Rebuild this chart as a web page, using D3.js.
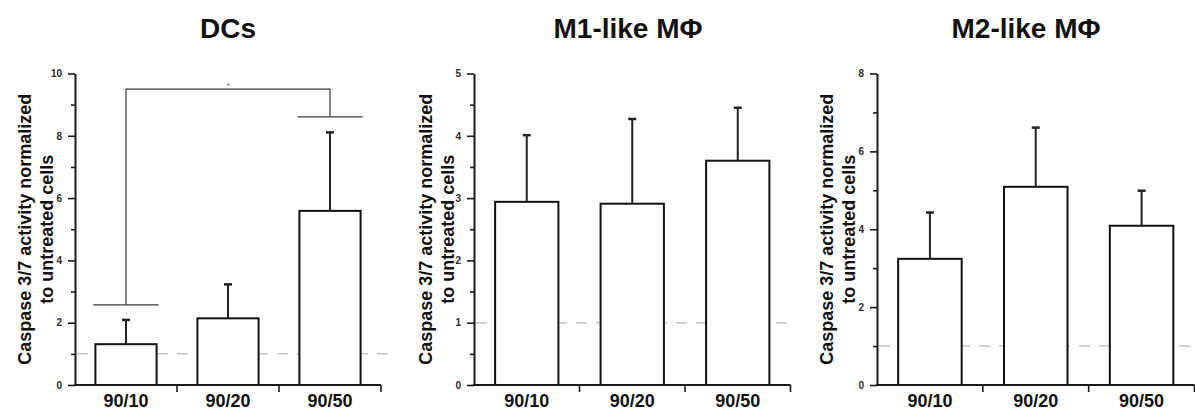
<!DOCTYPE html>
<html>
<head>
<meta charset="utf-8">
<script src="https://cdn.jsdelivr.net/npm/d3@7"></script>
<style>
  html, body { margin: 0; padding: 0; background: #fff; }
  svg { display: block; }
</style>
</head>
<body>
<svg id="chart" width="1195" height="410"></svg>
<script>
// ---------- data ----------
const categories = ["90/10", "90/20", "90/50"];

const titles = ["DCs", "M1-like M\u03A6", "M2-like M\u03A6"];
const yLabelLines = ["Caspase 3/7 activity normalized", "to untreated cells"];

const dcMeans = [1.31, 2.14, 5.59];
const dcErrors = [0.78, 1.09, 2.52];

const m1Means = [2.94, 2.91, 3.60];
const m1Errors = [1.07, 1.36, 0.85];

const m2Means = [3.24, 5.09, 4.09];
const m2Errors = [1.19, 1.52, 0.90];

const dcYTicks = [0, 2, 4, 6, 8, 10];
const dcYMinor = [1, 3, 5, 7, 9];
const m1YTicks = [0, 1, 2, 3, 4, 5];
const m1YMinor = [0.5, 1.5, 2.5, 3.5, 4.5];
const m2YTicks = [0, 2, 4, 6, 8];
const m2YMinor = [1, 3, 5, 7];

const baselineValue = 1; // dashed reference line (untreated = 1)

// significance bracket on DCs panel: 90/10 vs 90/50
const sigFrom = "90/10";
const sigTo = "90/50";
const sigLevel = 9.5;
const sigLegBottoms = [2.57, 8.61];
const sigLabel = "*";

// ---------- layout ----------
const panels = [
  { title: titles[0], means: dcMeans, errors: dcErrors, yMax: 10, ticks: dcYTicks, minor: dcYMinor,
    x0: 75, x1: 381, titleX: 228, labelX: [31, 53], dashEnd: 390, sig: true },
  { title: titles[1], means: m1Means, errors: m1Errors, yMax: 5, ticks: m1YTicks, minor: m1YMinor,
    x0: 474, x1: 790.5, titleX: 628, labelX: [432, 454], dashEnd: 787, sig: false },
  { title: titles[2], means: m2Means, errors: m2Errors, yMax: 8, ticks: m2YTicks, minor: m2YMinor,
    x0: 877, x1: 1194.5, titleX: 1026, labelX: [833, 855], dashEnd: 1195, sig: false }
];

const yTop = 73.5, yBottom = 385;
const FONT = "'Liberation Sans', Arial, Helvetica, sans-serif";
const axisColor = "#1a1a1a";

const svg = d3.select("#chart");

panels.forEach(p => {
  const g = svg.append("g");
  const x = d3.scaleBand().domain(categories).range([p.x0, p.x1])
    .paddingInner(0.4).paddingOuter(0.2);
  const y = d3.scaleLinear().domain([0, p.yMax]).range([yBottom, yTop]);
  const data = categories.map((c, i) => ({ cat: c, mean: p.means[i], err: p.errors[i] }));

  // title
  g.append("text")
    .attr("x", p.titleX).attr("y", 38)
    .attr("text-anchor", "middle")
    .attr("font-family", FONT).attr("font-weight", "bold").attr("font-size", 28)
    .attr("fill", "#111")
    .text(p.title);

  // y label (two lines, rotated)
  const cy = (yTop + yBottom) / 2;
  yLabelLines.forEach((line, i) => {
    g.append("text")
      .attr("transform", `translate(${p.labelX[i]},${cy}) rotate(-90)`)
      .attr("text-anchor", "middle")
      .attr("font-family", FONT).attr("font-weight", "bold").attr("font-size", 18)
      .attr("fill", "#111")
      .text(line);
  });

  // dashed baseline (behind bars)
  g.append("line")
    .attr("x1", p.x0 + 2).attr("x2", p.dashEnd)
    .attr("y1", y(baselineValue)).attr("y2", y(baselineValue))
    .attr("stroke", "#c4c4c4").attr("stroke-width", 1.5)
    .attr("stroke-dasharray", "11,9");

  // error bars (upper only)
  const eb = g.append("g").selectAll("g").data(data).join("g");
  eb.append("line")
    .attr("x1", d => x(d.cat) + x.bandwidth() / 2)
    .attr("x2", d => x(d.cat) + x.bandwidth() / 2)
    .attr("y1", d => y(d.mean)).attr("y2", d => y(d.mean + d.err))
    .attr("stroke", "#222").attr("stroke-width", 2);
  eb.append("line")
    .attr("x1", d => x(d.cat) + x.bandwidth() / 2 - 4)
    .attr("x2", d => x(d.cat) + x.bandwidth() / 2 + 4)
    .attr("y1", d => y(d.mean + d.err)).attr("y2", d => y(d.mean + d.err))
    .attr("stroke", "#222").attr("stroke-width", 2.5);

  // bars
  g.append("g").selectAll("rect").data(data).join("rect")
    .attr("x", d => x(d.cat))
    .attr("y", d => y(d.mean))
    .attr("width", x.bandwidth())
    .attr("height", d => y(0) - y(d.mean))
    .attr("fill", "#fff")
    .attr("stroke", "#111").attr("stroke-width", 2);

  // y axis: minor ticks
  g.append("g")
    .attr("transform", `translate(${p.x0},0)`)
    .call(d3.axisLeft(y).tickValues(p.minor).tickSize(4).tickFormat(""))
    .call(a => a.select(".domain").remove())
    .call(a => a.selectAll("line").attr("stroke", axisColor).attr("stroke-width", 1.6));

  // y axis: major ticks and labels
  g.append("g")
    .attr("transform", `translate(${p.x0},0)`)
    .call(d3.axisLeft(y).tickValues(p.ticks).tickFormat(d3.format("d"))
      .tickSize(7).tickSizeOuter(0).tickPadding(6))
    .call(a => a.select(".domain").attr("stroke", axisColor).attr("stroke-width", 2))
    .call(a => a.selectAll(".tick line").attr("stroke", axisColor).attr("stroke-width", 1.6))
    .call(a => a.selectAll("text")
      .attr("font-family", FONT).attr("font-weight", "bold").attr("font-size", 10)
      .attr("fill", "#2a2a2a"));

  // x axis with labels
  g.append("g")
    .attr("transform", `translate(0,${yBottom})`)
    .call(d3.axisBottom(x).tickSize(0).tickSizeOuter(0).tickPadding(9))
    .call(a => a.select(".domain").attr("stroke", axisColor).attr("stroke-width", 2)
      .attr("d", `M${p.x0 - 1},0H${p.x1}`))
    .call(a => a.selectAll("text")
      .attr("font-family", FONT).attr("font-weight", "bold").attr("font-size", 18)
      .attr("fill", "#111").attr("dy", "0.71em"));

  // x axis ticks at band boundaries (pointing down)
  const bounds = categories.map(c => x(c) - x.step() * x.paddingInner() / 2 + x.step()).filter(v => v <= p.x1 + 1);
  g.append("g").selectAll("line").data(bounds).join("line")
    .attr("x1", d => d).attr("x2", d => d)
    .attr("y1", yBottom).attr("y2", yBottom + 7)
    .attr("stroke", axisColor).attr("stroke-width", 1.6);

  // significance bracket
  if (p.sig) {
    const xa = x(sigFrom) + x.bandwidth() / 2;
    const xb = x(sigTo) + x.bandwidth() / 2;
    const br = g.append("g").attr("stroke", "#3c3c3c").attr("stroke-width", 1.2).attr("fill", "none");
    br.append("path")
      .attr("d", `M${xa},${y(sigLegBottoms[0])}V${y(sigLevel)}H${xb}V${y(sigLegBottoms[1])}`);
    [[sigFrom, sigLegBottoms[0]], [sigTo, sigLegBottoms[1]]].forEach(([c, v]) => {
      br.append("line")
        .attr("x1", x(c) - 2).attr("x2", x(c) + x.bandwidth() + 2)
        .attr("y1", y(v)).attr("y2", y(v));
    });
    g.append("text")
      .attr("x", (xa + xb) / 2).attr("y", y(sigLevel) - 1)
      .attr("text-anchor", "middle")
      .attr("font-family", FONT).attr("font-size", 7).attr("fill", "#333")
      .text(sigLabel);
  }
});
</script>
</body>
</html>
